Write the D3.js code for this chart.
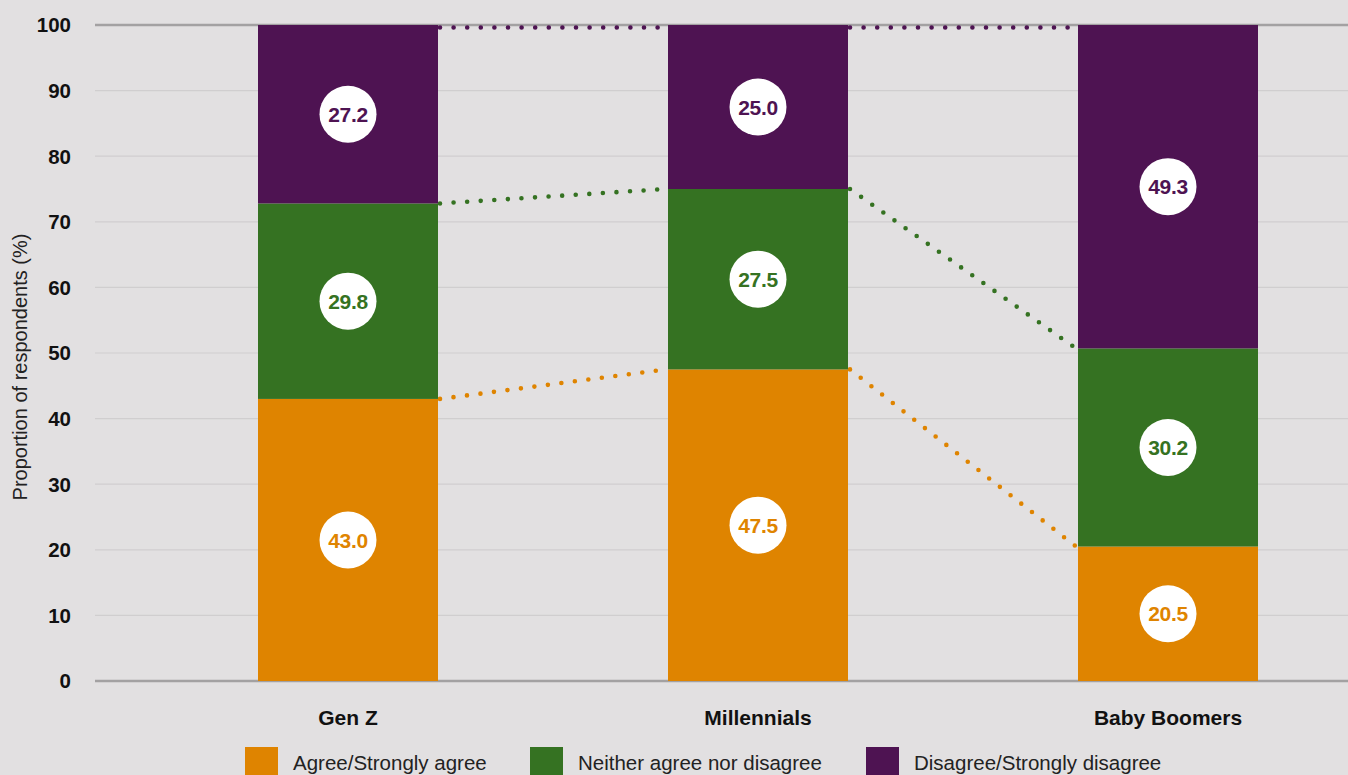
<!DOCTYPE html>
<html><head><meta charset="utf-8">
<script src="https://cdn.jsdelivr.net/npm/d3@7"></script>
<style>
html,body{margin:0;padding:0;background:#e2e0e1;}
svg{display:block;font-family:"Liberation Sans",Arial,Helvetica,sans-serif;}
</style></head>
<body>
<svg id="chart" width="1348" height="775"></svg>
<script>
const categories = ["Gen Z", "Millennials", "Baby Boomers"];
const seriesNames = ["Agree/Strongly agree", "Neither agree nor disagree", "Disagree/Strongly disagree"];
const agree = [43.0, 47.5, 20.5];
const neither = [29.8, 27.5, 30.2];
const disagree = [27.2, 25.0, 49.3];
const colors = ["#df8400", "#357222", "#4e1352"];
const yTicks = [0, 10, 20, 30, 40, 50, 60, 70, 80, 90, 100];

(function () {
const svg = d3.select("#chart");
const W = 1348, H = 775;
const mLeft = 95, mRight = 1348, mTop = 25, mBottom = 681;

const x = d3.scaleBand().domain(categories).range([143, 1373])
  .paddingInner(230 / 410).paddingOuter(115 / 410);
const y = d3.scaleLinear().domain([0, 100]).range([mBottom, mTop]);

svg.append("rect").attr("width", W).attr("height", H).attr("fill", "#e2e0e1");

// gridlines
svg.append("g").selectAll("line").data(yTicks).join("line")
  .attr("x1", mLeft).attr("x2", mRight)
  .attr("y1", d => y(d)).attr("y2", d => y(d))
  .attr("stroke", d => (d === 0 || d === 100) ? "#a3a1a2" : "#d0cecf")
  .attr("stroke-width", d => (d === 0 || d === 100) ? 2.5 : 1.2);

// y tick labels
svg.append("g").selectAll("text").data(yTicks).join("text")
  .attr("x", 71).attr("y", d => y(d)).attr("dy", "0.36em")
  .attr("text-anchor", "end").attr("font-size", 20.5).attr("font-weight", "bold")
  .attr("fill", "#111").text(d => d);

// y axis title
svg.append("text").attr("transform", `translate(27,367) rotate(-90)`)
  .attr("text-anchor", "middle").attr("font-size", 20).attr("fill", "#222")
  .text("Proportion of respondents (%)");

// stack
const table = categories.map((c, i) => ({cat: c, a: agree[i], n: neither[i], d: disagree[i]}));
const stack = d3.stack().keys(["a", "n", "d"])(table);

// connector dotted lines
const conn = svg.append("g");
stack.forEach((layer, si) => {
  const off = si === 2 ? 2.5 : 0;
  for (let i = 0; i < categories.length - 1; i++) {
    const x1 = x(categories[i]) + x.bandwidth();
    const x2 = x(categories[i + 1]);
    conn.append("line")
      .attr("x1", x1 + 2).attr("x2", x2 - 2)
      .attr("y1", y(layer[i][1]) + off).attr("y2", y(layer[i + 1][1]) + off)
      .attr("stroke", colors[si]).attr("stroke-width", 4.6)
      .attr("stroke-linecap", "round").attr("stroke-dasharray", "0 13.6");
  }
});

// bars
const bars = svg.append("g");
stack.forEach((layer, si) => {
  bars.selectAll(null).data(layer).join("rect")
    .attr("x", d => x(d.data.cat)).attr("width", x.bandwidth())
    .attr("y", d => y(d[1])).attr("height", d => y(d[0]) - y(d[1]))
    .attr("fill", colors[si]);
});

// labels
const lbl = svg.append("g");
stack.forEach((layer, si) => {
  layer.forEach(d => {
    const cx = x(d.data.cat) + x.bandwidth() / 2;
    const cy = y((d[0] + d[1]) / 2);
    lbl.append("circle").attr("cx", cx).attr("cy", cy).attr("r", 28.5).attr("fill", "#fff");
    lbl.append("text").attr("x", cx).attr("y", cy).attr("dy", "0.36em")
      .attr("text-anchor", "middle").attr("font-size", 21).attr("font-weight", "bold")
      .attr("letter-spacing", -0.3)
      .attr("fill", colors[si]).text((d[1] - d[0]).toFixed(1));
  });
});

// category labels
svg.append("g").selectAll("text").data(categories).join("text")
  .attr("x", d => x(d) + x.bandwidth() / 2).attr("y", 717).attr("dy", "0.36em")
  .attr("text-anchor", "middle").attr("font-size", 21).attr("font-weight", "bold")
  .attr("fill", "#111").text(d => d);

// legend
const legX = [245, 530, 866];
const leg = svg.append("g");
seriesNames.forEach((s, i) => {
  leg.append("rect").attr("x", legX[i]).attr("y", 747).attr("width", 33).attr("height", 33).attr("fill", colors[i]);
  leg.append("text").attr("x", legX[i] + 48).attr("y", 763).attr("dy", "0.36em")
    .attr("font-size", 20.5).attr("fill", "#222").text(s);
});
})();
</script>
</body></html>
